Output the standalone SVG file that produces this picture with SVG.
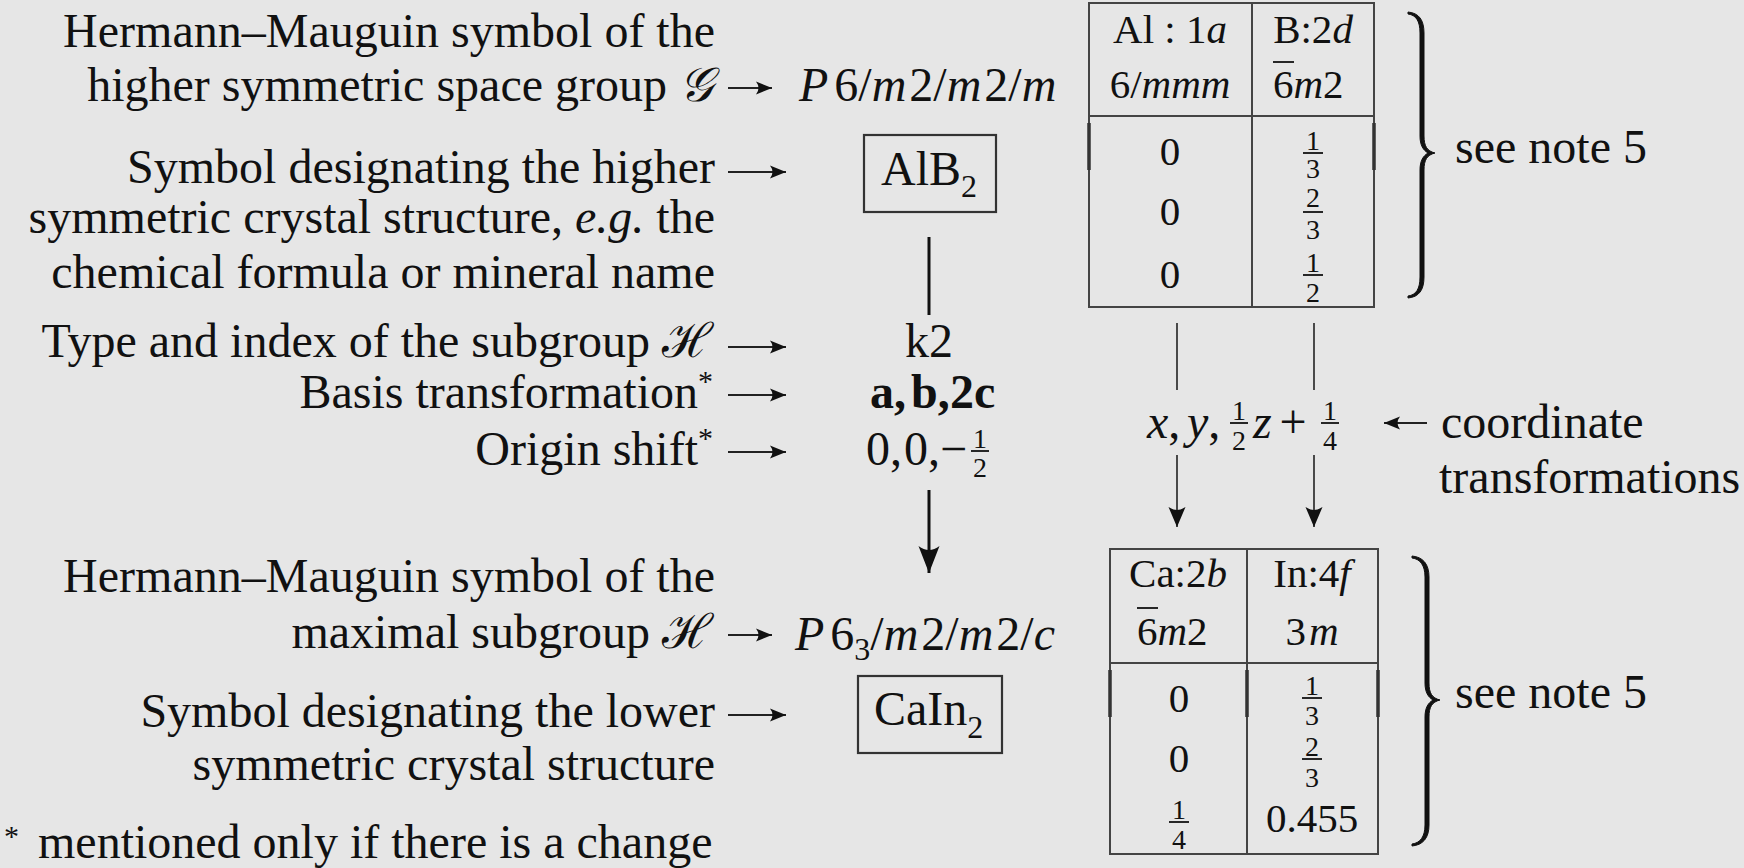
<svg xmlns="http://www.w3.org/2000/svg" width="1744" height="868" viewBox="0 0 1744 868">
<defs>
<style>
text{font-family:"Liberation Serif","Times New Roman",serif;fill:#111}
.t{font-size:48px}
.r{text-anchor:end}
.m{text-anchor:middle}
.tb{font-size:41px}
.fr{font-size:28px;text-anchor:middle}
.i{font-style:italic}
.b{font-weight:bold}
.sub{font-size:32px}
.ast{font-size:30px}
.ln{stroke:#222;stroke-width:2;fill:none}
.lnT{stroke:#222;stroke-width:1.6;fill:none}
.lnB{stroke:#111;stroke-width:3;fill:none}
.tbl{stroke:#444;stroke-width:2;fill:none}
.art{stroke:#333;stroke-width:3.5}
.bar{stroke:#111;stroke-width:1.8}
.box{stroke:#333;stroke-width:2.2;fill:none}
.brace{fill:#111;stroke:#111;stroke-width:1}
</style>
<marker id="arS" viewBox="-18 -8 20 16" refX="0" refY="0" markerWidth="20" markerHeight="16" markerUnits="userSpaceOnUse" orient="auto"><path d="M0,0 L-16,-6.5 Q-11,0 -16,6.5 Z" fill="#111"/></marker>
<marker id="arM" viewBox="-22 -10 24 20" refX="0" refY="0" markerWidth="24" markerHeight="20" markerUnits="userSpaceOnUse" orient="auto"><path d="M0,0 L-20,-8.5 Q-14,0 -20,8.5 Z" fill="#111"/></marker>
<marker id="arL" viewBox="-30 -12 32 24" refX="0" refY="0" markerWidth="32" markerHeight="24" markerUnits="userSpaceOnUse" orient="auto"><path d="M0,0 L-27,-10.5 Q-19,0 -27,10.5 Z" fill="#111"/></marker>
</defs>
<rect x="0" y="0" width="1744" height="868" fill="#e6e6e6"/>

<g id="labels-upper">
<text class="t r" x="715" y="47">Hermann–Mauguin symbol of the</text>
<text class="t r" x="713" y="101">higher symmetric space group <tspan class="i">𝒢</tspan></text>
<text class="t r" x="715" y="183">Symbol designating the higher</text>
<text class="t r" x="715" y="233">symmetric crystal structure, <tspan class="i">e.g.</tspan> the</text>
<text class="t r" x="715" y="288">chemical formula or mineral name</text>
<text class="t r" x="713" y="357">Type and index of the subgroup ℋ</text>
<text class="t r" x="713" y="408">Basis transformation<tspan class="ast" dy="-17">*</tspan></text>
<text class="t r" x="713" y="465">Origin shift<tspan class="ast" dy="-17">*</tspan></text>
</g>

<g id="labels-lower">
<text class="t r" x="715" y="592">Hermann–Mauguin symbol of the</text>
<text class="t r" x="713" y="648">maximal subgroup ℋ</text>
<text class="t r" x="715" y="727">Symbol designating the lower</text>
<text class="t r" x="715" y="780">symmetric crystal structure</text>
</g>

<g id="footnote">
<text class="ast" x="4" y="846">*</text>
<text class="t" x="38" y="858">mentioned only if there is a change</text>
</g>

<g id="node-G">
<text class="t" x="799" y="101"><tspan class="i">P</tspan><tspan dx="6">6/</tspan><tspan class="i">m</tspan><tspan dx="3">2/</tspan><tspan class="i">m</tspan><tspan dx="3">2/</tspan><tspan class="i">m</tspan></text>
</g>

<g id="node-AlB2">
<rect class="box" x="864" y="135" width="132" height="77"/>
<text class="t" x="881" y="185">AlB<tspan class="sub" dy="12">2</tspan></text>
</g>

<g id="node-k2">
<text class="t m" x="929" y="357">k2</text>
</g>

<g id="node-basis">
<text class="t b" y="408"><tspan x="870">a,</tspan><tspan x="911">b,</tspan><tspan x="950">2c</tspan></text>
</g>

<g id="node-origin">
<text class="t" y="465"><tspan x="866">0,</tspan><tspan x="904">0,</tspan><tspan x="940">−</tspan></text>
<text class="fr" x="980" y="448">1</text><line class="bar" x1="971" y1="451" x2="989" y2="451"/><text class="fr" x="980" y="477">2</text>
</g>

<g id="node-H">
<text class="t" x="795" y="650"><tspan class="i">P</tspan><tspan dx="6">6</tspan><tspan class="sub" dy="10">3</tspan><tspan dy="-10">/</tspan><tspan class="i">m</tspan><tspan dx="3">2/</tspan><tspan class="i">m</tspan><tspan dx="3">2/</tspan><tspan class="i">c</tspan></text>
</g>

<g id="node-CaIn2">
<rect class="box" x="858" y="676" width="144" height="77"/>
<text class="t" x="874" y="725">CaIn<tspan class="sub" dy="13">2</tspan></text>
</g>

<g id="table-upper">
<rect class="tbl" x="1089" y="3" width="285" height="304"/>
<line class="tbl" x1="1252" y1="3" x2="1252" y2="307"/>
<line class="tbl" x1="1089" y1="116" x2="1374" y2="116"/>
<line class="art" x1="1089" y1="123" x2="1089" y2="170"/>
<line class="art" x1="1374" y1="123" x2="1374" y2="170"/>
<text class="tb m" x="1170" y="43">Al : 1<tspan class="i">a</tspan></text>
<text class="tb m" x="1170" y="98">6/<tspan class="i">mmm</tspan></text>
<text class="tb m" x="1313" y="43">B:2<tspan class="i">d</tspan></text>
<text class="tb" x="1273" y="98">6<tspan class="i">m</tspan>2</text>
<line class="bar" x1="1273" y1="62" x2="1294" y2="62"/>
<text class="tb m" x="1170" y="165">0</text>
<text class="tb m" x="1170" y="225">0</text>
<text class="tb m" x="1170" y="288">0</text>
<text class="fr" x="1313" y="150">1</text><line class="bar" x1="1303" y1="153" x2="1323" y2="153"/><text class="fr" x="1313" y="178">3</text>
<text class="fr" x="1313" y="207">2</text><line class="bar" x1="1303" y1="212" x2="1323" y2="212"/><text class="fr" x="1313" y="239">3</text>
<text class="fr" x="1313" y="272">1</text><line class="bar" x1="1303" y1="275" x2="1323" y2="275"/><text class="fr" x="1313" y="302">2</text>
<path class="brace" d="M1408,12 C1419,13 1424,20 1424,33 L1424,136 C1424,146 1427,151 1435,153 C1427,155 1424,160 1424,170 L1424,277 C1424,290 1419,297 1408,298 L1408,296 C1416,295 1420,289 1420,277 L1420,170 C1420,161 1423,156 1428,153 C1423,150 1420,145 1420,136 L1420,33 C1420,21 1416,15 1408,14 Z"/>
<text class="t" x="1455" y="163">see note 5</text>
</g>

<g id="node-coord">
<text class="t" x="1147" y="438"><tspan class="i">x</tspan>,</text>
<text class="t" x="1187" y="438"><tspan class="i">y</tspan>,</text>
<text class="fr" x="1239" y="420">1</text><line class="bar" x1="1230" y1="423" x2="1248" y2="423"/><text class="fr" x="1239" y="450">2</text>
<text class="t i" x="1253" y="438">z</text>
<text class="t m" x="1293" y="438">+</text>
<text class="fr" x="1330" y="420">1</text><line class="bar" x1="1321" y1="423" x2="1339" y2="423"/><text class="fr" x="1330" y="450">4</text>
<text class="t" x="1441" y="438">coordinate</text>
<text class="t" x="1439" y="493">transformations</text>
</g>

<g id="table-lower">
<rect class="tbl" x="1110" y="549" width="268" height="305"/>
<line class="tbl" x1="1247" y1="549" x2="1247" y2="854"/>
<line class="tbl" x1="1110" y1="663" x2="1378" y2="663"/>
<line class="art" x1="1110" y1="670" x2="1110" y2="717"/>
<line class="art" x1="1247" y1="670" x2="1247" y2="717"/>
<line class="art" x1="1378" y1="670" x2="1378" y2="717"/>
<text class="tb m" x="1178" y="587">Ca:2<tspan class="i">b</tspan></text>
<text class="tb" x="1137" y="645">6<tspan class="i">m</tspan>2</text>
<line class="bar" x1="1137" y1="608" x2="1158" y2="608"/>
<text class="tb m" x="1312" y="587">In:4<tspan class="i">f</tspan></text>
<text class="tb m" x="1312" y="645">3<tspan class="i" dx="3">m</tspan></text>
<text class="tb m" x="1179" y="712">0</text>
<text class="tb m" x="1179" y="772">0</text>
<text class="fr" x="1179" y="819">1</text><line class="bar" x1="1169" y1="822" x2="1189" y2="822"/><text class="fr" x="1179" y="849">4</text>
<text class="fr" x="1312" y="695">1</text><line class="bar" x1="1302" y1="698" x2="1322" y2="698"/><text class="fr" x="1312" y="725">3</text>
<text class="fr" x="1312" y="756">2</text><line class="bar" x1="1302" y1="759" x2="1322" y2="759"/><text class="fr" x="1312" y="787">3</text>
<text class="tb m" x="1312" y="832">0.455</text>
<path class="brace" d="M1412,556 C1423,557 1429,564 1429,577 L1429,683 C1429,693 1432,698 1440,700 C1432,702 1429,707 1429,717 L1429,825 C1429,838 1423,845 1412,846 L1412,844 C1420,843 1425,837 1425,825 L1425,717 C1425,708 1428,703 1433,700 C1428,697 1425,692 1425,683 L1425,577 C1425,565 1420,559 1412,558 Z"/>
<text class="t" x="1455" y="708">see note 5</text>
</g>

<g id="connectors">
<line class="ln" x1="728" y1="88" x2="772" y2="88" marker-end="url(#arS)"/>
<line class="ln" x1="728" y1="172" x2="786" y2="172" marker-end="url(#arS)"/>
<line class="ln" x1="728" y1="347" x2="786" y2="347" marker-end="url(#arS)"/>
<line class="ln" x1="728" y1="395" x2="786" y2="395" marker-end="url(#arS)"/>
<line class="ln" x1="728" y1="452" x2="786" y2="452" marker-end="url(#arS)"/>
<line class="ln" x1="728" y1="635" x2="772" y2="635" marker-end="url(#arS)"/>
<line class="ln" x1="728" y1="715" x2="786" y2="715" marker-end="url(#arS)"/>
<line class="lnB" x1="929" y1="237" x2="929" y2="315"/>
<line class="lnB" x1="929" y1="490" x2="929" y2="573" marker-end="url(#arL)"/>
<line class="lnT" x1="1177" y1="323" x2="1177" y2="390"/>
<line class="lnT" x1="1314" y1="323" x2="1314" y2="390"/>
<line class="lnT" x1="1177" y1="455" x2="1177" y2="527" marker-end="url(#arM)"/>
<line class="lnT" x1="1314" y1="455" x2="1314" y2="527" marker-end="url(#arM)"/>
<line class="ln" x1="1427" y1="423" x2="1384" y2="423" marker-end="url(#arS)"/>
</g>
</svg>
